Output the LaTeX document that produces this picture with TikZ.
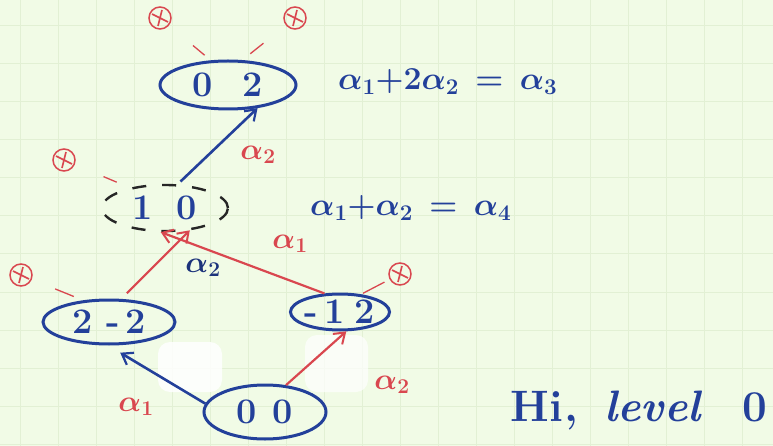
\documentclass[tikz,border=0pt]{standalone}
\usepackage{fix-cm}
\usetikzlibrary{shapes.geometric,arrows.meta,calc}
\definecolor{paper}{HTML}{F1FBE6}
\definecolor{gridc}{HTML}{E2F0D4}
\definecolor{ink}{HTML}{23409A}
\definecolor{redink}{HTML}{D9474F}
\tikzset{
  wt/.style={ellipse, draw=ink, line width=3pt, text=ink, font=\fontsize{36}{38}\selectfont\bfseries, inner sep=0pt},
  cross/.style={circle, draw=redink, line width=1.5pt, minimum size=22pt, inner sep=0pt,
    path picture={\draw[redink,line width=1.6pt] (path picture bounding box.center) ++(-8,-4) -- ++(16,8)
      (path picture bounding box.center) ++(-2,8) -- ++(4,-16);}},
  tick/.style={redink, line width=1.3pt},
  bluearr/.style={ink, line width=2.6pt, -{Straight Barb[length=10pt,width=14pt,line width=2.2pt]}},
  redarr/.style={redink, line width=2.2pt, -{Straight Barb[length=10pt,width=14pt,line width=2pt]}},
  lab/.style={font=\fontsize{30}{32}\selectfont\boldmath, inner sep=1pt},
  eq/.style={text=ink, font=\fontsize{32}{34}\selectfont\boldmath\bfseries, inner sep=0pt}
}
\begin{document}
\begin{tikzpicture}[x=1pt,y=-1pt]
\fill[paper] (0,0) rectangle (773,446);
\useasboundingbox (0,0) rectangle (773,446);
\foreach \i in {0,...,20} \draw[gridc, line width=1pt] (20+38*\i,0) -- (20+38*\i,446);
\foreach \j in {0,...,12} \draw[gridc, line width=1pt] (0,26+38*\j) -- (773,26+38*\j);
\fill[white, rounded corners=12pt, opacity=0.85] (158,342) rectangle (222,392);
\fill[white, rounded corners=12pt, opacity=0.7] (305,335) rectangle (368,392);

% weight nodes
\node[wt, minimum width=136pt, minimum height=48pt] (p02) at (228,85) {0\hspace{30pt}2};
\node[wt, draw=black!85, dashed, dash pattern=on 14pt off 16pt, line width=2.4pt, text=ink, minimum width=126pt, minimum height=46pt] (p10) at (165,208) {1\hspace{24pt}0};
\node[wt, minimum width=132pt, minimum height=44pt] (p22) at (109,322) {2\hspace{14pt}-\hspace{5pt}2};
\node[wt, minimum width=90pt, minimum height=36pt] (pm12) at (340,312) {-\,1\hspace{10pt}2};
\node[wt, minimum width=122pt, minimum height=54pt] (p00) at (265,412) {0\hspace{16pt}0};

% crossed circles
\node[cross] (c1) at (160,18) {};
\node[cross] (c2) at (295,18) {};
\node[cross] (c3) at (64,160) {};
\node[cross] (c4) at (21,275) {};
\node[cross] (c5) at (400,274) {};
\draw[tick] ($(c1)!0.65!(p02.125)$) -- ($(c1)!0.88!(p02.125)$);
\draw[tick] ($(c2)!0.6!(p02.60)$) -- ($(c2)!0.85!(p02.60)$);
\draw[tick] ($(c3)!0.6!(p10.150)$) -- ($(c3)!0.8!(p10.150)$);
\draw[tick] ($(c4)!0.55!(p22.140)$) -- ($(c4)!0.85!(p22.140)$);
\draw[tick] ($(c5)!0.4!(pm12.40)$) -- ($(c5)!0.95!(pm12.40)$);

% arrows
\draw[bluearr, shorten <=4pt] (p10.62) -- (p02.-38);
\draw[redarr] (pm12.130) -- (p10.-100);
\draw[redarr, shorten <=8pt] (p22.62) -- (p10.-42);
\draw[bluearr, shorten >=14pt] (p00.172) -- (p22.-92);
\draw[redarr] (p00.52) -- (pm12.-72);

% labels
\node[lab, text=redink] (l1) at (258,155) {$\alpha_2$};
\node[lab, text=redink] (l2) at (290,244) {$\alpha_1$};
\node[lab, text=ink!80!black] (l3) at (203,268) {$\alpha_2$};
\node[lab, text=redink] (l4) at (136,407) {$\alpha_1$};
\node[lab, text=redink] (l5) at (392,385) {$\alpha_2$};

% equations
\node[eq, anchor=west] (e1) at (338,82) {$\alpha_1{+}2\alpha_2 \,=\, \alpha_3$};
\node[eq, anchor=west] (e2) at (310,208) {$\alpha_1{+}\alpha_2 \,=\, \alpha_4$};
\node[eq, anchor=west, font=\fontsize{44}{46}\selectfont\bfseries] (e3) at (510,410) {H\kern1pt i\kern1pt,\hspace{26pt}\textit{level}\hspace{40pt}0};
\end{tikzpicture}
\end{document}
